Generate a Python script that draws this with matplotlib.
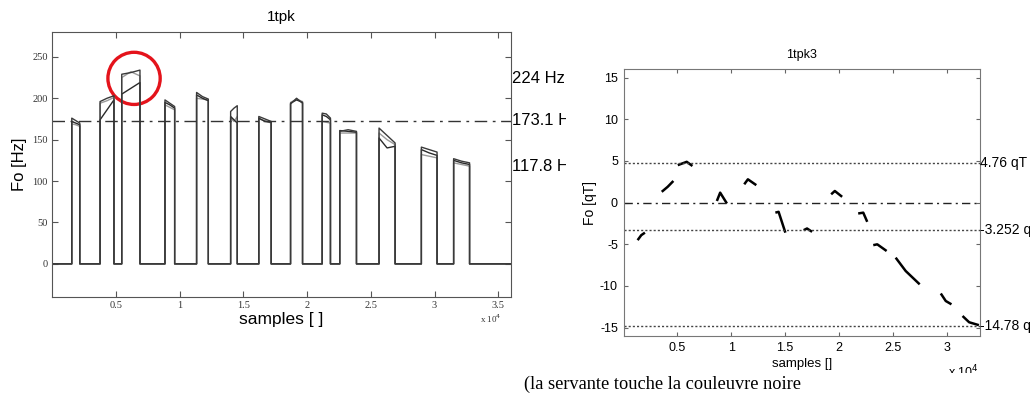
import matplotlib.pyplot as plt
from matplotlib.patches import Ellipse
from matplotlib.transforms import Bbox, TransformedBbox, blended_transform_factory

# ---- left panel: F0 contours of 3 repetitions, 13 voiced segments ----
seg_start = [1550, 3770, 5470, 8860, 11340, 14010, 16220, 18710, 21190, 22570, 25650, 28970, 31500]
seg_end = [2180, 4860, 6900, 9620, 12260, 14530, 17190, 19650, 21840, 23880, 26910, 30200, 32750]
# (start, middle, end) of each voiced segment, Hz
f0_rep1 = [(176, 173, 170), (196, 200, 203), (229, 231, 234), (198, 194, 190), (207, 202, 199),
           (184, 188, 191), (178, 175, 172), (193, 200, 194), (182, 181, 176), (160, 162, 160),
           (164, 155, 146), (141, 138, 135), (127, 124, 122)]
f0_rep2 = [(169, 168, 166), (194, 197, 201), (225, 232, 227), (192, 189, 186), (200, 199, 198),
           (176, 172, 178), (175, 173, 170), (195, 199, 196), (172, 171, 170), (158, 158, 158),
           (158, 150, 144), (132, 130, 128), (122, 120, 118)]
f0_rep3 = [(172, 170, 168), (174, 186, 198), (205, 212, 219), (195, 192, 188), (204, 200, 197),
           (178, 174, 170), (176, 172, 171), (194, 198, 195), (180, 178, 174), (161, 160, 159),
           (152, 140, 142), (138, 134, 131), (125, 122, 120)]
hz_levels = [224, 173.1, 117.8]
hz_labels = ['224 Hz', '173.1 Hz', '117.8 Hz']
hz_mean = 173.1

# ---- right panel: F0 in quarter tones ----
qt_x = [[1310, 1650, 1990], [3550, 4100, 4630], [5040, 5870, 6400], [8670, 8975, 9600],
        [11210, 11550, 12330], [14100, 14400, 15030], [16730, 17040, 17510], [19280, 19620, 20300],
        [21790, 22260, 22630], [23190, 23560, 24430], [25270, 26200, 27500], [29460, 29920, 30450],
        [31480, 32090, 33000]]
qt_y = [[-4.5, -3.9, -3.6], [1.3, 1.9, 2.6], [4.5, 4.9, 4.4], [0.2, 1.2, -0.1],
        [2.2, 2.8, 2.1], [-1.2, -1.1, -3.6], [-3.3, -3.1, -3.5], [1.0, 1.4, 0.7],
        [-1.3, -1.2, -2.3], [-5.1, -5.0, -5.8], [-6.6, -8.2, -9.8], [-10.9, -11.8, -12.2],
        [-13.6, -14.35, -14.7]]
qt_levels = [4.76, -3.252, -14.78]
qt_labels = ['4.76 qT', '-3.252 qT', '-14.78 qT']

SANS = 'Liberation Sans'
SERIF = 'Liberation Serif'
plt.rcParams['font.family'] = SANS
plt.rcParams['axes.unicode_minus'] = False

fig = plt.figure(figsize=(10.3, 3.94), dpi=100)
W, H = 1030, 394


def px_axes(l, t, r, b):
    return fig.add_axes([l / W, 1 - b / H, (r - l) / W, (b - t) / H])


# left chart
ax1 = px_axes(52, 32, 511, 297)
x_end = 36000


def voiced_line(vals):
    xs, ys = [0], [0]
    for s, e, (a, b, c) in zip(seg_start, seg_end, vals):
        xs += [s, s, (s + e) / 2, e, e]
        ys += [0, a, b, c, 0]
    xs.append(x_end)
    ys.append(0)
    return xs, ys


for vals, col in [(f0_rep2, '#9a9a9a'), (f0_rep3, '#2a2a2a'), (f0_rep1, '#3a3a3a')]:
    xs, ys = voiced_line(vals)
    ax1.plot(xs, ys, color=col, lw=1.0)

ax1.axhline(hz_mean, color='#333333', lw=1.0, ls=(0, (9, 4, 2, 4)))
ax1.set_xlim(0, x_end)
ax1.set_ylim(-40, 280)
ax1.set_yticks([0, 50, 100, 150, 200, 250])
ax1.set_xticks([5000, 10000, 15000, 20000, 25000, 30000, 35000])
ax1.set_xticklabels([f'{t / 1e4:g}' for t in ax1.get_xticks()])
for lab in ax1.get_xticklabels() + ax1.get_yticklabels():
    lab.set_fontfamily(SERIF)
    lab.set_fontsize(7.5)
    lab.set_color('#333333')
ax1.tick_params(direction='in', length=4, top=True, right=True, color='#555555', pad=3)
for sp in ax1.spines.values():
    sp.set_color('#555555')
ax1.set_title('1tpk', fontsize=11, pad=8)
ax1.set_xlabel('samples [ ]', fontsize=12.5, labelpad=1)
ax1.set_ylabel('Fo [Hz]', fontsize=12, labelpad=4)
fig.text(491 / W, 1 - 319 / H, 'x 10$^4$', fontsize=6.5, family=SERIF, ha='center', va='center',
         color='#333333')

# red circle around the highest peak
ax1.add_patch(Ellipse(((seg_start[2] + seg_end[2]) / 2 + 250, hz_levels[0]), 4100, 63,
                      fill=False, ec='#e4131b', lw=2.4, clip_on=False))

# level labels, cut by the right picture
clip1 = TransformedBbox(Bbox([[0, 0], [566 / W, 1]]), fig.transFigure)
tr1 = blended_transform_factory(ax1.transAxes, ax1.transData)
for v, s in zip(hz_levels, hz_labels):
    t = fig.text(1.003, v, s, transform=tr1, fontsize=12, ha='left', va='center')
    t.set_clip_box(clip1)
    t.set_clip_on(True)

# right chart
ax2 = px_axes(623.5, 69.3, 980, 336)
for xs, ys in zip(qt_x, qt_y):
    ax2.plot(xs, ys, color='black', lw=1.8, solid_capstyle='butt')
for v in qt_levels:
    ax2.axhline(v, color='#444444', lw=1.0, ls=(0, (1.5, 1.5)))
ax2.axhline(0, color='#222222', lw=1.0, ls=(0, (6, 3, 1.5, 3)))
ax2.set_xlim(0, 33100)
ax2.set_ylim(-16, 16)
ax2.set_yticks([-15, -10, -5, 0, 5, 10, 15])
ax2.set_xticks([5000, 10000, 15000, 20000, 25000, 30000])
ax2.set_xticklabels([f'{t / 1e4:g}' for t in ax2.get_xticks()])
ax2.tick_params(direction='in', length=3, top=True, right=True, color='#666666',
                labelsize=9, pad=4)
for sp in ax2.spines.values():
    sp.set_color('#777777')
ax2.set_title('1tpk3', fontsize=9, pad=8)
ax2.set_xlabel('samples []', fontsize=9.5, labelpad=3)
ax2.set_ylabel('Fo [qT]', fontsize=10, labelpad=2)

tr2 = blended_transform_factory(ax2.transAxes, ax2.transData)
for v, s in zip(qt_levels, qt_labels):
    ax2.text(1.0, v, s, transform=tr2, fontsize=10, ha='left', va='center', clip_on=False)

t = fig.text(963 / W, 1 - 372 / H, 'x 10$^4$', fontsize=9, ha='center', va='center')
t.set_clip_box(TransformedBbox(Bbox([[0, 1 - 373 / H], [1, 1]]), fig.transFigure))
t.set_clip_on(True)

fig.text(524 / W, 1 - 384 / H, '(la servante touche la couleuvre noire', family=SERIF,
         fontsize=13.2, ha='left', va='center')

fig.savefig('out.png', dpi=100)
